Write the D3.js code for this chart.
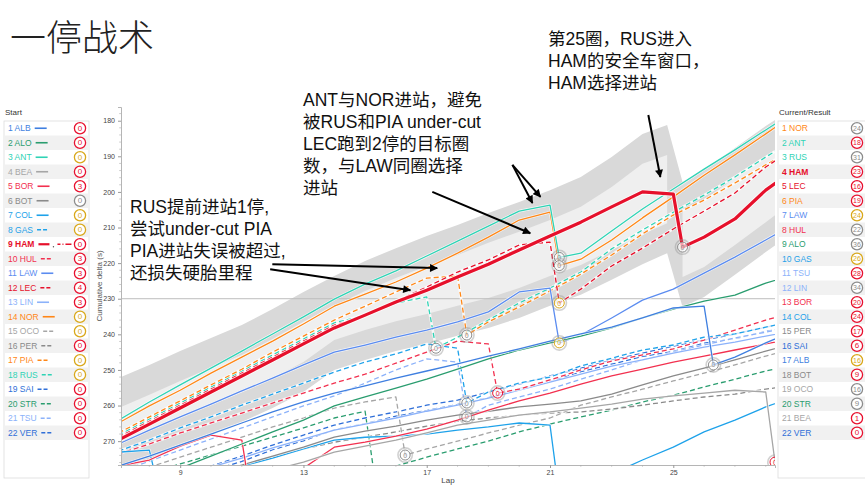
<!DOCTYPE html>
<html>
<head>
<meta charset="utf-8">
<script src="https://cdn.jsdelivr.net/npm/d3@7"></script>
<style>
  body { margin: 0; background: #fff; }
  text { font-family: "Liberation Sans", Arial, "Noto Sans CJK SC", sans-serif; }
</style>
</head>
<body>
<div id="chart"></div>
<script>
// =============================
// Data: cumulative delta (s) per lap, laps 7..29
// =============================
const laps = [7, 8, 9, 10, 11, 12, 13, 14, 15, 16, 17, 18, 19, 20, 21, 22, 23, 24, 25, 26, 27, 28, 29];

const deltaALB = [277.0, 274.2, 271.1, 268.0, 264.9, 261.8, 259.0, 256.5, 254.5, 252.3, 250.3, 248.3, 246.1, 244.1, 241.9, 239.9, 238.0, 235.4, 232.6, 232.1, 246.4, 242.4, 238.8];
const deltaALO = [284.3, 280.9, 277.6, 274.2, 270.8, 267.4, 264.1, 260.1, 257.6, 255.1, 252.6, 249.8, 246.9, 244.4, 242.4, 240.5, 238.2, 235.4, 232.9, 230.7, 229.0, 225.6, 223.1];
const deltaANT = [264.1, 259.0, 254.2, 249.5, 244.7, 239.9, 235.1, 230.1, 225.9, 222.2, 218.0, 213.8, 209.6, 205.4, 203.7, 217.2, 211.0, 204.8, 199.2, 193.6, 188.2, 182.6, 177.0];
const deltaBEA = [289.4, 287.1, 284.9, 282.6, 280.4, 278.1, 275.9, 273.1, 271.4, 269.7, 267.7, 265.5, 264.1, 262.7, 261.8, 260.7, 259.6, 258.2, 257.3, 256.5, 255.7, 256.2, 273.9];
const deltaBOR = [277.0, 275.3, 271.4, 268.3, 269.7, 284.3, 277.6, 271.7, 270.3, 268.6, 266.6, 264.1, 261.3, 258.7, 256.5, 254.0, 251.7, 249.8, 247.8, 246.1, 244.4, 242.7, 241.0];
const deltaBOT = [287.1, 284.6, 281.8, 279.2, 276.7, 274.2, 271.7, 268.9, 267.2, 265.8, 264.1, 262.7, 261.6, 260.4, 259.6, 258.7, 256.8, 254.2, 251.7, 249.5, 247.2, 244.7, 242.4];
const deltaCOL = [273.1, 272.5, 282.1, 279.5, 277.0, 274.8, 272.2, 269.7, 268.9, 268.6, 268.0, 266.9, 266.0, 264.9, 265.5, 282.9, 279.2, 275.3, 271.7, 267.4, 264.1, 260.4, 257.3];
const deltaGAS = [272.8, 269.7, 266.3, 263.2, 259.9, 256.8, 253.7, 250.6, 247.8, 245.5, 242.7, 243.9, 256.2, 253.7, 252.0, 248.9, 246.7, 244.4, 243.0, 240.8, 239.9, 238.0, 236.0];
const deltaHAM = [269.7, 265.2, 260.7, 256.2, 251.7, 247.2, 242.7, 238.2, 234.6, 230.9, 227.6, 223.9, 220.3, 216.3, 212.4, 208.5, 204.2, 200.0, 200.6, 212.7, 207.6, 199.5, 193.3];
const deltaHUL = [273.6, 270.8, 267.7, 264.9, 262.1, 259.3, 256.5, 253.7, 251.2, 248.1, 245.0, 241.9, 242.7, 255.4, 252.8, 250.0, 247.5, 245.8, 244.1, 241.6, 238.8, 236.0, 233.7];
const deltaLAW = [270.8, 266.9, 263.2, 259.6, 255.9, 252.3, 248.6, 245.0, 243.0, 240.8, 238.8, 236.5, 233.7, 228.1, 227.0, 240.2, 235.4, 230.4, 227.3, 222.8, 218.3, 213.5, 208.7];
const deltaLEC = [268.9, 264.4, 259.9, 255.4, 250.9, 246.4, 241.9, 237.4, 234.9, 230.7, 226.7, 222.5, 219.1, 214.9, 214.1, 227.3, 220.8, 215.8, 210.4, 205.4, 200.3, 193.0, 187.4];
const deltaLIN = [285.1, 282.6, 279.8, 277.3, 274.8, 271.9, 269.4, 266.9, 265.2, 263.5, 261.6, 259.9, 257.9, 255.7, 253.4, 251.2, 248.9, 247.2, 245.3, 243.6, 242.2, 240.5, 238.8];
const deltaNOR = [264.9, 260.1, 255.7, 250.9, 246.4, 241.9, 237.1, 232.1, 228.7, 225.3, 221.4, 217.2, 212.7, 207.9, 205.7, 218.9, 213.5, 207.3, 201.4, 195.3, 189.6, 183.7, 177.8];
const deltaOCO = [280.1, 277.3, 274.5, 271.7, 268.9, 266.0, 263.5, 260.7, 259.0, 257.6, 272.2, 270.0, 267.7, 265.5, 263.5, 259.9, 257.6, 255.4, 253.1, 250.9, 248.6, 246.1, 243.9];
const deltaPER = [285.7, 283.5, 281.2, 279.0, 276.7, 274.5, 272.2, 270.3, 268.9, 267.4, 265.8, 264.4, 263.5, 262.7, 262.1, 261.8, 261.0, 259.9, 258.7, 257.6, 256.8, 255.4, 254.2];
const deltaPIA = [267.7, 263.2, 258.7, 254.2, 249.8, 245.0, 240.5, 236.0, 232.1, 228.1, 224.2, 223.6, 236.5, 232.3, 227.8, 223.1, 217.7, 211.8, 206.5, 202.3, 197.5, 192.4, 187.7];
const deltaRUS = [268.3, 263.8, 259.3, 254.8, 250.3, 245.8, 241.3, 236.8, 234.6, 231.2, 229.5, 240.8, 236.0, 231.2, 227.0, 222.5, 216.0, 210.7, 205.7, 200.9, 195.8, 190.2, 184.9];
const deltaSAI = [285.7, 282.9, 279.8, 277.0, 274.2, 271.1, 268.3, 265.5, 263.5, 261.8, 259.9, 258.5, 256.2, 254.0, 251.7, 249.5, 247.2, 245.3, 243.3, 241.6, 239.9, 238.0, 236.0];
const deltaSTR = [281.5, 279.0, 276.4, 273.9, 271.4, 268.9, 266.3, 263.5, 261.6, 277.0, 274.5, 272.2, 270.0, 267.4, 265.2, 263.2, 261.3, 259.0, 257.1, 254.8, 252.6, 250.3, 248.4];
const deltaTSU = [278.7, 275.6, 272.5, 269.4, 266.3, 263.2, 260.1, 257.3, 253.7, 250.0, 246.9, 247.8, 259.9, 257.6, 255.4, 252.6, 250.0, 247.2, 245.0, 243.0, 241.0, 239.4, 237.7];
const deltaVER = [287.3, 284.2, 281.4, 278.3, 275.7, 272.4, 269.9, 266.8, 265.1, 263.0, 261.4, 259.7, 257.8, 255.3, 253.2, 250.5, 248.4, 246.2, 244.8, 242.5, 241.2, 239.2, 237.5];

// pit stops: out-lap point of each stop
const pitDriver = ["COL", "BOR", "STR", "OCO", "RUS", "PIA", "GAS", "TSU", "HUL", "ANT", "NOR", "LEC", "LAW", "COL", "HAM", "ALB", "BEA"];
const pitLap    = [8.3, 11.3, 15.3, 16.3, 17.3, 18.3, 18.3, 18.3, 19.3, 21.3, 21.3, 21.3, 21.3, 21.3, 25.3, 26.3, 28.3];
const pitDelta  = [283.7, 286.0, 279.5, 273.9, 243.9, 240.2, 259.3, 263.2, 256.5, 218.4, 220.7, 231.2, 242.4, 285.1, 215.5, 248.6, 275.9];
const pitTyre   = ["M", "M", "H", "H", "H", "H", "H", "H", "S", "H", "H", "M", "M", "H", "H", "H", "S"];

// pit window band (outer / inner edges)
const bandLaps        = [7, 8, 9, 10, 11, 12, 13, 14, 15, 16, 17, 18, 19, 20, 21, 22, 23, 24, 24.8, 25.3, 26, 27, 28, 29];
const bandTop         = [252.3, 248.6, 244.7, 241.0, 237.4, 232.9, 228.1, 223.6, 219.4, 215.8, 212.4, 209.3, 205.9, 202.8, 199.5, 195.8, 190.2, 183.7, 181.2, 197.2, 193.8, 187.7, 181.5, 175.9];
const bandBottom      = [278.7, 275.3, 271.7, 268.3, 264.6, 260.7, 256.2, 250.0, 247.2, 244.7, 242.7, 240.4, 238.2, 235.4, 232.0, 228.9, 224.7, 220.3, 217.2, 232.3, 229.5, 223.3, 216.9, 210.7];
const bandInnerTop    = [260.7, 257.0, 253.1, 249.4, 245.8, 241.3, 236.5, 232.0, 227.8, 224.2, 220.8, 217.7, 214.3, 211.2, 207.9, 204.2, 198.6, 192.1, 189.6, 205.6, 202.2, 196.1, 189.9, 184.3];
const bandInnerBottom = [270.3, 266.9, 263.3, 259.9, 256.2, 252.3, 247.8, 241.6, 238.8, 236.3, 234.3, 232.0, 229.8, 227.0, 223.6, 220.5, 216.3, 211.9, 208.8, 223.9, 221.1, 214.9, 208.5, 202.1];

// legends
const startOrder  = ["ALB", "ALO", "ANT", "BEA", "BOR", "BOT", "COL", "GAS", "HAM", "HUL", "LAW", "LEC", "LIN", "NOR", "OCO", "PER", "PIA", "RUS", "SAI", "STR", "TSU", "VER"];
const startTyre   = ["S", "S", "M", "S", "S", "H", "M", "M", "S", "S", "S", "S", "S", "M", "M", "S", "M", "M", "S", "S", "S", "S"];
const startAge    = [0, 0, 0, 0, 3, 0, 0, 0, 0, 3, 3, 4, 3, 0, 0, 0, 0, 0, 0, 0, 0, 0];
const resultOrder = ["NOR", "ANT", "RUS", "HAM", "LEC", "PIA", "LAW", "HUL", "ALO", "GAS", "TSU", "LIN", "BOR", "COL", "PER", "SAI", "ALB", "BOT", "OCO", "STR", "BEA", "VER"];
const resultTyre  = ["H", "S", "H", "S", "S", "S", "M", "H", "H", "M", "S", "H", "S", "S", "S", "S", "M", "S", "H", "H", "S", "S"];
const resultAge   = [24, 18, 31, 23, 16, 19, 24, 22, 36, 26, 28, 34, 20, 24, 17, 6, 16, 9, 16, 9, 1, 0];

// annotation arrows (lap, delta)
const arrowFromLap   = [11.99, 11.92, 17.18, 19.78, 19.78, 24.19];
const arrowFromDelta = [220.3, 221.7, 200.0, 192.4, 192.4, 178.4];
const arrowToLap     = [17.34, 16.47, 20.36, 20.43, 20.69, 24.58];
const arrowToDelta   = [221.4, 227.6, 211.6, 203.1, 201.4, 195.8];

const deltas = {
    ALB: deltaALB, ALO: deltaALO, ANT: deltaANT, BEA: deltaBEA, BOR: deltaBOR, BOT: deltaBOT,
    COL: deltaCOL, GAS: deltaGAS, HAM: deltaHAM, HUL: deltaHUL, LAW: deltaLAW, LEC: deltaLEC,
    LIN: deltaLIN, NOR: deltaNOR, OCO: deltaOCO, PER: deltaPER, PIA: deltaPIA, RUS: deltaRUS,
    SAI: deltaSAI, STR: deltaSTR, TSU: deltaTSU, VER: deltaVER
};

// =============================
// Styles
// =============================
const driverColour = {
    ALB: "#3f7fe0", ALO: "#2a9d6f", ANT: "#2fd3b5", BEA: "#a6a6a6", BOR: "#f2304f", BOT: "#8a8a8a",
    COL: "#1ea2ea", GAS: "#1ea2ea", HAM: "#e6102b", HUL: "#f2304f", LAW: "#5b8cf0", LEC: "#e6102b",
    LIN: "#8cb2fa", NOR: "#ff8717", OCO: "#a6a6a6", PER: "#8a8a8a", PIA: "#ff8717", RUS: "#2fd3b5",
    SAI: "#2f6fd8", STR: "#2a9d6f", TSU: "#8cb2fa", VER: "#2f6fd8"
};
const dashedDrivers = ["GAS", "HUL", "LEC", "OCO", "PER", "PIA", "RUS", "SAI", "STR", "TSU", "VER"];
const tyreColour = { S: "#e8102e", M: "#d9a81a", H: "#8c8c8c" };

const width = 865, height = 485;
const plot = { left: 121, right: 775, top: 107, bottom: 465 };

const svg = d3.select("#chart")
    .append("svg")
    .attr("width", width)
    .attr("height", height);

const xScale = d3.scaleLinear().domain([7.08, 28.3]).range([plot.left, plot.right]);
const yScale = d3.scaleLinear().domain([176.15, 276.7]).range([plot.top, plot.bottom]);

svg.append("defs").append("clipPath")
    .attr("id", "plotClip")
    .append("rect")
        .attr("x", plot.left)
        .attr("y", plot.top)
        .attr("width", plot.right - plot.left)
        .attr("height", plot.bottom - plot.top);

svg.select("defs").append("marker")
    .attr("id", "arrow")
    .attr("viewBox", "0 0 10 10")
    .attr("refX", 9).attr("refY", 5)
    .attr("markerWidth", 9).attr("markerHeight", 8)
    .attr("markerUnits", "userSpaceOnUse")
    .attr("orient", "auto")
    .append("path")
        .attr("d", "M0,0 L10,5 L0,10 z")
        .attr("fill", "#000");

// =============================
// Title
// =============================
svg.append("text")
    .text("一停战术")
    .attr("x", 10)
    .attr("y", 51)
    .attr("font-family", "Noto Sans CJK SC")
    .attr("font-weight", 300)
    .attr("font-size", 36)
    .attr("fill", "#222");

// =============================
// Pit window bands
// =============================
const plotArea = svg.append("g").attr("clip-path", "url(#plotClip)");

const bandRows = bandLaps.map((lap, i) => ({
    lap, top: bandTop[i], bottom: bandBottom[i], innerTop: bandInnerTop[i], innerBottom: bandInnerBottom[i]
}));

plotArea.append("path")
    .datum(bandRows)
    .attr("d", d3.area().x(d => xScale(d.lap)).y0(d => yScale(d.top)).y1(d => yScale(d.bottom)))
    .attr("fill", "#d9d9d9");

const innerArea = d3.area().x(d => xScale(d.lap)).y0(d => yScale(d.innerTop)).y1(d => yScale(d.innerBottom));
[bandRows.filter(d => d.lap <= 24.8), bandRows.filter(d => d.lap >= 25.3)].forEach(seg => {
    plotArea.append("path")
        .datum(seg)
        .attr("d", innerArea)
        .attr("fill", "#efefef");
});

// reference line at 230
plotArea.append("line")
    .attr("x1", plot.left).attr("x2", plot.right)
    .attr("y1", yScale(230)).attr("y2", yScale(230))
    .attr("stroke", "#bdbdbd")
    .attr("stroke-width", 1);

// =============================
// Driver lines
// =============================
const seriesFor = code => {
    const pts = laps.map((lap, i) => ({ lap, delta: deltas[code][i] }));
    pitDriver.forEach((d, i) => {
        if (d === code) pts.push({ lap: pitLap[i], delta: pitDelta[i] });
    });
    return pts.sort((a, b) => a.lap - b.lap);
};

const lineGen = d3.line()
    .x(d => xScale(d.lap))
    .y(d => yScale(d.delta));

const drawOrder = startOrder.filter(c => c !== "HAM").reverse().concat(["HAM"]);

drawOrder.forEach(code => {
    const isHam = code === "HAM";
    const dash = dashedDrivers.includes(code) ? "5,3" : null;
    const pts = seriesFor(code);
    plotArea.append("path")
        .datum(pts)
        .attr("d", lineGen)
        .attr("fill", "none")
        .attr("stroke", "#fff")
        .attr("stroke-opacity", 0.8)
        .attr("stroke-width", isHam ? 5 : 2.6)
        .attr("stroke-linejoin", "round");
    plotArea.append("path")
        .datum(pts)
        .attr("d", lineGen)
        .attr("fill", "none")
        .attr("stroke", driverColour[code])
        .attr("stroke-width", isHam ? 3.2 : 1.3)
        .attr("stroke-dasharray", dash)
        .attr("stroke-linejoin", "round");
});

// pit-out markers (only those inside the visible range)
const [yLo, yHi] = yScale.domain();
const pitRows = pitDriver
    .map((d, i) => ({ lap: pitLap[i], delta: pitDelta[i], tyre: pitTyre[i] }))
    .filter(d => d.delta > yLo && d.delta < yHi);

const pitMarks = plotArea.selectAll("g.pit")
    .data(pitRows)
    .join("g")
        .attr("class", "pit")
        .attr("transform", d => `translate(${xScale(d.lap)},${yScale(d.delta)})`);

pitMarks.append("circle")
    .attr("r", 7.2)
    .attr("fill", "none")
    .attr("stroke", "#999")
    .attr("stroke-opacity", 0.45)
    .attr("stroke-width", 1.6);
pitMarks.append("circle")
    .attr("r", 5)
    .attr("fill", "#fff")
    .attr("fill-opacity", 0.6)
    .attr("stroke", d => tyreColour[d.tyre])
    .attr("stroke-width", 1);
pitMarks.append("text")
    .text("0")
    .attr("text-anchor", "middle")
    .attr("y", 2.5)
    .attr("font-size", 7)
    .attr("fill", d => tyreColour[d.tyre]);

// =============================
// Axes
// =============================
const leftAxis = d3.axisLeft(yScale)
    .tickValues(d3.range(180, 271, 10))
    .tickSize(3)
    .tickPadding(3);
const yAxisG = svg.append("g")
    .attr("transform", `translate(${plot.left},0)`)
    .call(leftAxis);

const yMinor = d3.range(178, 277, 2).filter(v => v % 10 !== 0);
svg.append("g").selectAll("line")
    .data(yMinor)
    .join("line")
        .attr("x1", plot.left - 1.8).attr("x2", plot.left)
        .attr("y1", d => yScale(d)).attr("y2", d => yScale(d))
        .attr("stroke", "#aaa")
        .attr("stroke-width", 0.6);

const bottomAxis = d3.axisBottom(xScale)
    .tickValues([9, 13, 17, 21, 25])
    .tickFormat(d3.format("d"))
    .tickSize(3)
    .tickPadding(2);
const xAxisG = svg.append("g")
    .attr("transform", `translate(0,${plot.bottom})`)
    .call(bottomAxis);

svg.append("g").selectAll("line")
    .data(d3.range(8, 29).filter(l => ![9, 13, 17, 21, 25].includes(l)))
    .join("line")
        .attr("x1", d => xScale(d)).attr("x2", d => xScale(d))
        .attr("y1", plot.bottom).attr("y2", plot.bottom + 1.8)
        .attr("stroke", "#aaa")
        .attr("stroke-width", 0.6);

[yAxisG, xAxisG].forEach(g => {
    g.select(".domain").attr("stroke", "#b5b5b5");
    g.selectAll(".tick line").attr("stroke", "#999");
    g.selectAll(".tick text").attr("font-size", 7).attr("fill", "#444");
});

svg.append("text")
    .text("Cumulative delta (s)")
    .attr("transform", `translate(102,${(plot.top + plot.bottom) / 2}) rotate(-90)`)
    .attr("text-anchor", "middle")
    .attr("font-size", 8)
    .attr("fill", "#555");

svg.append("text")
    .text("Lap")
    .attr("x", 448)
    .attr("y", 483)
    .attr("text-anchor", "middle")
    .attr("font-size", 8)
    .attr("fill", "#444");

// =============================
// Annotations
// =============================
arrowFromLap.forEach((lap, i) => {
    svg.append("line")
        .attr("x1", xScale(lap)).attr("y1", yScale(arrowFromDelta[i]))
        .attr("x2", xScale(arrowToLap[i])).attr("y2", yScale(arrowToDelta[i]))
        .attr("stroke", "#000")
        .attr("stroke-width", 2)
        .attr("marker-end", "url(#arrow)");
});

const notes = [
    { x: 130, y: 213, lines: ["RUS提前进站1停,", "尝试under-cut PIA", "PIA进站失误被超过,", "还损失硬胎里程"] },
    { x: 303, y: 106, lines: ["ANT与NOR进站，避免", "被RUS和PIA under-cut", "LEC跑到2停的目标圈", "数，与LAW同圈选择", "进站"] },
    { x: 548, y: 45, lines: ["第25圈，RUS进入", "HAM的安全车窗口，", "HAM选择进站"] }
];
notes.forEach(n => {
    n.lines.forEach((t, i) => {
        svg.append("text")
            .text(t)
            .attr("x", n.x)
            .attr("y", n.y + i * 22)
            .attr("font-size", 17.5)
            .attr("fill", "#111");
    });
});

// =============================
// Legends
// =============================
const rowTop = 121, rowH = 14.5;

const drawLegend = (x0, x1, title, order, tyres, ages, circleX, withSample) => {
    const g = svg.append("g");
    g.append("text")
        .text(title)
        .attr("x", x0 + 1)
        .attr("y", 115)
        .attr("font-size", 8)
        .attr("fill", "#333");
    g.append("rect")
        .attr("x", x0).attr("y", rowTop)
        .attr("width", x1 - x0).attr("height", 357)
        .attr("fill", "#fff")
        .attr("stroke", "#dcdcdc")
        .attr("stroke-width", 0.8);

    order.forEach((code, i) => {
        const cy = rowTop + rowH * i + rowH / 2;
        if (i % 2 === 1) {
            g.append("rect")
                .attr("x", x0 + 0.5).attr("y", rowTop + rowH * i)
                .attr("width", x1 - x0 - 1).attr("height", rowH)
                .attr("fill", "#f1f1f1");
        }
        const label = g.append("text")
            .text(`${i + 1} ${code}`)
            .attr("x", x0 + 4)
            .attr("y", cy + 3)
            .attr("font-size", 8.5)
            .attr("font-weight", code === "HAM" ? "bold" : "normal")
            .attr("fill", driverColour[code]);

        if (withSample) {
            const sx = x0 + 4 + label.node().getComputedTextLength() + 4;
            if (code === "HAM") {
                g.append("line")
                    .attr("x1", sx).attr("x2", sx + 11).attr("y1", cy).attr("y2", cy)
                    .attr("stroke", driverColour[code]).attr("stroke-width", 2.2);
                g.append("circle")
                    .attr("cx", sx + 15).attr("cy", cy + 2.5).attr("r", 0.7)
                    .attr("fill", "#555");
                g.append("line")
                    .attr("x1", sx + 19).attr("x2", sx + 33).attr("y1", cy).attr("y2", cy)
                    .attr("stroke", driverColour[code]).attr("stroke-width", 1.6)
                    .attr("stroke-dasharray", "3,2,1,2,6,0");
            } else {
                g.append("line")
                    .attr("x1", sx).attr("x2", sx + 12).attr("y1", cy).attr("y2", cy)
                    .attr("stroke", driverColour[code])
                    .attr("stroke-width", 1.6)
                    .attr("stroke-dasharray", dashedDrivers.includes(code) ? "4,2" : null);
            }
        }

        g.append("circle")
            .attr("cx", circleX).attr("cy", cy)
            .attr("r", 5.6)
            .attr("fill", "#fff")
            .attr("stroke", tyreColour[tyres[i]])
            .attr("stroke-width", 1.3);
        g.append("text")
            .text(ages[i])
            .attr("x", circleX)
            .attr("y", cy + 2.7)
            .attr("text-anchor", "middle")
            .attr("font-size", ages[i] > 9 ? 7 : 8)
            .attr("fill", tyreColour[tyres[i]]);
    });
};

drawLegend(4, 89, "Start", startOrder, startTyre, startAge, 80, true);
drawLegend(778, 866, "Current/Result", resultOrder, resultTyre, resultAge, 857, false);
</script>
</body>
</html>
